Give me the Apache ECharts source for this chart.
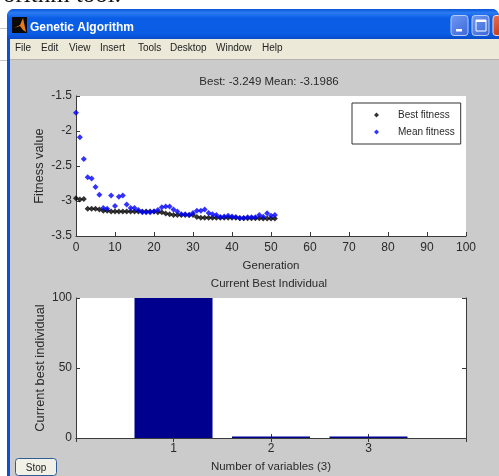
<!DOCTYPE html>
<html><head><meta charset="utf-8">
<style>html,body{margin:0;padding:0;background:#fff;overflow:hidden}#c{width:499px;height:476px}</style>
<script src="https://cdn.jsdelivr.net/npm/echarts@6/dist/echarts.min.js"></script>
</head><body><div id="c"></div>
<script>
const bestFitness = [-2.96,-2.98,-2.97,-3.11,-3.11,-3.11,-3.12,-3.14,-3.14,-3.15,-3.15,-3.15,-3.15,-3.15,-3.15,-3.15,-3.15,-3.15,-3.15,-3.15,-3.15,-3.16,-3.16,-3.18,-3.19,-3.2,-3.2,-3.2,-3.2,-3.2,-3.2,-3.23,-3.24,-3.24,-3.24,-3.24,-3.24,-3.24,-3.24,-3.24,-3.24,-3.24,-3.245,-3.245,-3.245,-3.245,-3.245,-3.245,-3.249,-3.249,-3.249,-3.249];
const meanFitness = [-1.74,-2.09,-2.4,-2.66,-2.68,-2.8,-2.91,-3.1,-3.11,-2.92,-3.07,-2.94,-2.92,-3.05,-3.1,-3.1,-3.13,-3.16,-3.16,-3.16,-3.15,-3.13,-3.09,-3.08,-3.08,-3.12,-3.15,-3.19,-3.19,-3.2,-3.17,-3.14,-3.14,-3.12,-3.17,-3.19,-3.2,-3.23,-3.22,-3.21,-3.22,-3.23,-3.243,-3.243,-3.233,-3.233,-3.233,-3.2,-3.224,-3.176,-3.21,-3.1986];
const variableIndex = [1,2,3];
const bestIndividual = [100,1,1];
const menuItems = [['File',15],['Edit',41],['View',69],['Insert',100],['Tools',138],['Desktop',170],['Window',216],['Help',262]];
const FONT = '"Liberation Sans", Arial, sans-serif';
const TXT = '#2a2a2a', AX = '#3a3a3a';

const chart = echarts.init(document.getElementById('c'), null, {renderer:'canvas'});

function xBox(grid, min, max, interval, name, hideEnds, gap, margin){
  return {type:'value', gridIndex:grid, min, max, interval, position:'bottom',
    name, nameLocation:'middle', nameGap:gap,
    nameTextStyle:{color:TXT,fontSize:11.5,fontFamily:FONT},
    axisLine:{show:true,lineStyle:{color:AX,width:1}},
    axisTick:{show:true,inside:true,length:4,lineStyle:{color:AX}},
    axisLabel:{color:TXT,fontSize:12,fontFamily:FONT,margin,showMinLabel:!hideEnds,showMaxLabel:!hideEnds},
    splitLine:{show:false}};
}
function xTop(grid,min,max,interval){
  return {type:'value',gridIndex:grid,min,max,interval,position:'top',
    axisLine:{show:true,lineStyle:{color:AX}},
    axisTick:{show:true,inside:true,length:4,lineStyle:{color:AX}},
    axisLabel:{show:false},splitLine:{show:false}};
}
function yBox(grid,min,max,interval,name,gap){
  return {type:'value',gridIndex:grid,min,max,interval,position:'left',
    name,nameLocation:'middle',nameGap:gap,nameRotate:90,nameMoveOverlap:false,
    nameTextStyle:{color:TXT,fontSize:12.8,fontFamily:FONT},
    axisLine:{show:true,onZero:false,lineStyle:{color:AX}},
    axisTick:{show:true,inside:true,length:4,lineStyle:{color:AX}},
    axisLabel:{color:TXT,fontSize:12,fontFamily:FONT,margin:4},splitLine:{show:false}};
}
function yRight(grid,min,max,interval){
  return {type:'value',gridIndex:grid,min,max,interval,position:'right',
    axisLine:{show:true,onZero:false,lineStyle:{color:AX}},
    axisTick:{show:true,inside:true,length:4,lineStyle:{color:AX}},
    axisLabel:{show:false},splitLine:{show:false}};
}
const rect=(x,y,w,h,fill,extra={})=>({type:'rect',silent:true,shape:{x,y,width:w,height:h,r:extra.r||0},style:{fill,stroke:extra.stroke,lineWidth:extra.lw||0},z:extra.z||-10});
const txt=(x,y,t,fill,size,extra={})=>({type:'text',silent:true,x,y,z:extra.z||-5,style:{text:t,fill,fontSize:size,fontFamily:extra.font||FONT,fontWeight:extra.weight||'normal',textVerticalAlign:'middle',textAlign:extra.align||'left'}});
const titleGrad=new echarts.graphic.LinearGradient(0,0,0,1,[{offset:0,color:'#0a55d8'},{offset:.12,color:'#2a7bf2'},{offset:.3,color:'#0a5ee6'},{offset:.8,color:'#0a5ce4'},{offset:1,color:'#0648c4'}]);
const btnGrad=(a,b)=>new echarts.graphic.LinearGradient(0,0,1,1,[{offset:0,color:a},{offset:1,color:b}]);
const chrome=[
  txt(62,-5,'orithm tool.','#111',25,{font:'"Liberation Serif", serif',align:'center'}),
  rect(0,28,7,1,'#c8c8c8'),rect(0,60,7,1,'#c8c8c8'),
  rect(7,9,492,467,'#0a50d0',{r:[7,7,0,0]}),
  rect(7,9,492,31,titleGrad,{r:[7,7,0,0]}),
  rect(10,39,489,21,'#ece9d8'),
  rect(10,60,489,416,'#cbcbcb'),
  rect(10,59,489,1,'#b5b5b0'),
  rect(12,17,15,16,'#0a0a0a'),
  {type:'polygon',silent:true,z:-5,shape:{points:[[14,28],[20,25],[23,18],[26,32],[23,30],[20,26]]},style:{fill:'#e8791c'}},
  txt(30,27.5,'Genetic Algorithm','#fff',12,{weight:'bold'}),
  rect(451,15.5,17,20,btnGrad('#6f9af4','#3c66d8'),{r:3,stroke:'#b9ccf8',lw:1}),
  rect(456,29,6,2.5,'#fff'),
  rect(472,15.5,17,20,btnGrad('#6f9af4','#3c66d8'),{r:3,stroke:'#b9ccf8',lw:1}),
  rect(476,20,10,11,'none',{stroke:'#fff',lw:1}),
  rect(476,20,10,2,'#fff'),
  rect(493,15.5,8,20,btnGrad('#e87050','#c43a18'),{r:3,stroke:'#ffd8cc',lw:1}),
  ...menuItems.map(m=>txt(m[1],48.5,m[0],'#222',10)),
  txt(269,81.5,'Best: -3.249 Mean: -3.1986',TXT,11.5,{align:'center'}),
  txt(269,283.5,'Current Best Individual',TXT,11.5,{align:'center'}),
  rect(15.5,458.5,41,17,'#f2f1e8',{r:3,stroke:'#2d5d94',lw:1}),
  txt(36,468,'Stop','#222',10,{align:'center'})
];

chart.setOption({
  animation:false,
  backgroundColor:'#fff',
  graphic:{elements:chrome},
  grid:[
    {left:76,top:96,width:390,height:140,show:true,backgroundColor:'#fff',borderWidth:0},
    {left:76,top:298,width:390,height:140,show:true,backgroundColor:'#fff',borderWidth:0}
  ],
  xAxis:[
    xBox(0,0,100,10,'Generation',false,24,6),
    xBox(1,0,4,1,'Number of variables (3)',true,23,5),
    xTop(1,0,4,1)
  ],
  yAxis:[
    yBox(0,-3.5,-1.5,0.5,'Fitness value',30),
    yBox(1,0,100,50,'Current best individual',29),
    yRight(1,0,100,50)
  ],
  legend:{
    show:true,left:352,top:103,orient:'vertical',
    backgroundColor:'#fff',borderColor:'#333',borderWidth:1,borderRadius:0,
    padding:[7,6,7,22],itemGap:7,itemWidth:5,itemHeight:5,
    textStyle:{color:TXT,fontSize:10,fontFamily:FONT,padding:[0,0,0,14]},
    data:[
      {name:'Best fitness',icon:'diamond',itemStyle:{color:'#000'}},
      {name:'Mean fitness',icon:'diamond',itemStyle:{color:'#0000ff'}}
    ]
  },
  series:[
    {name:'Best fitness',type:'scatter',xAxisIndex:0,yAxisIndex:0,symbol:'diamond',symbolSize:6,itemStyle:{color:'#000'},
      data:bestFitness.map((v,i)=>[i,v]),z:3},
    {name:'Mean fitness',type:'scatter',xAxisIndex:0,yAxisIndex:0,symbol:'diamond',symbolSize:6,itemStyle:{color:'#0000ff'},
      data:meanFitness.map((v,i)=>[i,v]),z:4},
    {name:'Current best',type:'bar',xAxisIndex:1,yAxisIndex:1,barWidth:78,itemStyle:{color:'#00008f'},
      data:variableIndex.map((x,i)=>[x,bestIndividual[i]])}
  ]
});
</script></body></html>
